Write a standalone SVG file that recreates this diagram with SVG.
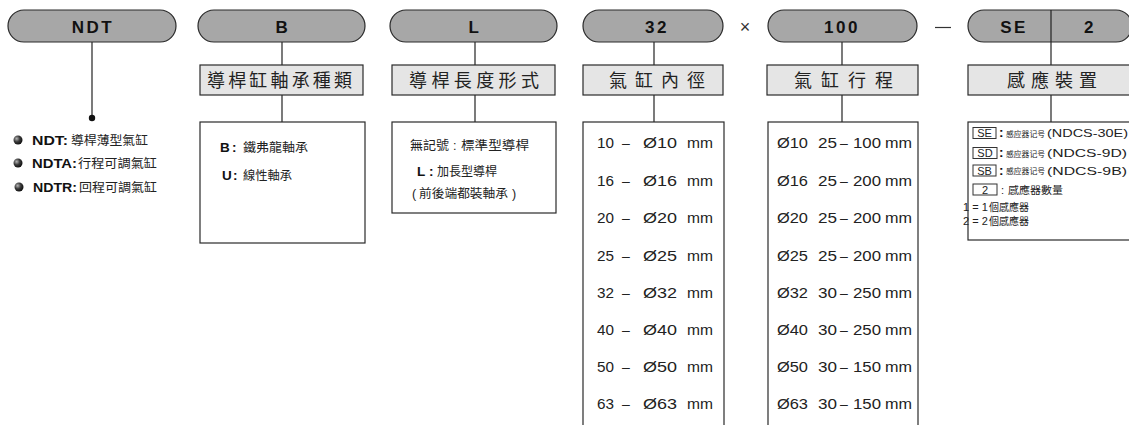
<svg xmlns="http://www.w3.org/2000/svg" width="1129" height="425" viewBox="0 0 1129 425">
<defs>
<radialGradient id="ball" cx="0.35" cy="0.35" r="0.7">
<stop offset="0" stop-color="#b5b5b5"/>
<stop offset="0.5" stop-color="#3a3a3a"/>
<stop offset="1" stop-color="#0d0d0d"/>
</radialGradient>
<style>
.pill{fill:#a7a7a7;stroke:#2a2a2a;stroke-width:1.2}
.title{fill:#e5e5e5;stroke:#2a2a2a;stroke-width:1.2}
.box{fill:#fff;stroke:#2a2a2a;stroke-width:1.2}
.conn{stroke:#222;stroke-width:1.2;fill:none}
.pt{font-family:"Liberation Sans",Arial,sans-serif;font-weight:bold;font-size:17px;fill:#111;letter-spacing:2.5px}
.tt{font-family:"Noto Sans CJK TC","Noto Sans CJK SC",sans-serif;font-size:18px;fill:#222}
.ct{font-family:"Liberation Sans","Noto Sans CJK TC",sans-serif;font-size:12.5px;fill:#222}
.cj{font-family:"Noto Sans CJK TC",sans-serif;font-size:12.5px;fill:#222}
.bd{font-family:"Liberation Sans",Arial,sans-serif;font-weight:bold;font-size:13.5px;fill:#111}
.num{font-family:"Liberation Sans",Arial,sans-serif;font-size:14px;fill:#222}
.sm{font-family:"Liberation Sans","Noto Sans CJK TC",sans-serif;font-size:11px;fill:#222}
.smc{font-family:"Noto Sans CJK TC",sans-serif;font-size:10.5px;fill:#222}
.tiny{font-family:"Noto Sans CJK SC","Noto Sans CJK TC",sans-serif;font-size:7.8px;fill:#222}
.tag{fill:#fff;stroke:#333;stroke-width:1}
.op{font-family:"Liberation Sans",Arial,sans-serif;font-size:18px;fill:#333}
</style>
</defs>
<rect width="1129" height="425" fill="#fff"/>

<g id="connectors">
<line class="conn" x1="92" y1="42" x2="92" y2="118"/>
<circle cx="92" cy="118" r="3.2" fill="#111"/>
<line class="conn" x1="282" y1="42" x2="282" y2="65"/>
<line class="conn" x1="282" y1="95" x2="282" y2="122"/>
<line class="conn" x1="475" y1="42" x2="475" y2="65"/>
<line class="conn" x1="475" y1="95" x2="475" y2="122"/>
<line class="conn" x1="654" y1="42" x2="654" y2="65"/>
<line class="conn" x1="654" y1="95" x2="654" y2="122"/>
<line class="conn" x1="842" y1="42" x2="842" y2="65"/>
<line class="conn" x1="842" y1="95" x2="842" y2="122"/>
<line class="conn" x1="1051" y1="42" x2="1051" y2="65"/>
<line class="conn" x1="1051" y1="95" x2="1051" y2="122"/>
</g>

<g id="operators">
<text class="op" x="745" y="33" text-anchor="middle">×</text>
<line x1="935" y1="27.5" x2="951" y2="27.5" stroke="#333" stroke-width="1.2"/>
</g>

<g id="node-ndt">
<rect class="pill" x="8" y="10" width="168" height="32" rx="16"/>
<text class="pt" x="93" y="33" text-anchor="middle">NDT</text>
<circle cx="18" cy="140" r="4.5" fill="url(#ball)"/>
<text class="bd" x="32" y="145" textLength="36" lengthAdjust="spacingAndGlyphs">NDT:</text>
<text class="cj" x="71" y="145" textLength="77" lengthAdjust="spacingAndGlyphs">導桿薄型氣缸</text>
<circle cx="18" cy="163" r="4.5" fill="url(#ball)"/>
<text class="bd" x="32" y="168" textLength="45" lengthAdjust="spacingAndGlyphs">NDTA:</text>
<text class="cj" x="78" y="168" textLength="79" lengthAdjust="spacingAndGlyphs">行程可調氣缸</text>
<circle cx="19" cy="187" r="4.5" fill="url(#ball)"/>
<text class="bd" x="33" y="192" textLength="44" lengthAdjust="spacingAndGlyphs">NDTR:</text>
<text class="cj" x="79" y="192" textLength="78" lengthAdjust="spacingAndGlyphs">回程可調氣缸</text>
</g>

<g id="node-b">
<rect class="pill" x="198" y="10" width="167" height="32" rx="16"/>
<text class="pt" x="283" y="33" text-anchor="middle">B</text>
<rect class="title" x="200" y="65" width="163" height="30"/>
<text class="tt" x="207" y="87" textLength="145">導桿缸軸承種類</text>
<rect class="box" x="200" y="122" width="165" height="121"/>
<text class="bd" x="220" y="152">B</text>
<text class="bd" x="232" y="152">:</text>
<text class="cj" x="243" y="152" textLength="65" lengthAdjust="spacingAndGlyphs">鐵弗龍軸承</text>
<text class="bd" x="222" y="180">U</text>
<text class="bd" x="233" y="180">:</text>
<text class="cj" x="243" y="180" textLength="49" lengthAdjust="spacingAndGlyphs">線性軸承</text>
</g>

<g id="node-l">
<rect class="pill" x="390" y="10" width="167" height="32" rx="16"/>
<text class="pt" x="475" y="33" text-anchor="middle">L</text>
<rect class="title" x="392" y="65" width="163" height="30"/>
<text class="tt" x="409" y="87" textLength="130">導桿長度形式</text>
<rect class="box" x="392" y="122" width="164" height="91"/>
<text class="cj" x="410" y="149.5" textLength="39" lengthAdjust="spacingAndGlyphs">無記號</text>
<text class="ct" x="453" y="149.5">:</text>
<text class="cj" x="461" y="149.5" textLength="68" lengthAdjust="spacingAndGlyphs">標準型導桿</text>
<text class="bd" x="417" y="176">L</text>
<text class="bd" x="429" y="176">:</text>
<text class="cj" x="437" y="176" textLength="60" lengthAdjust="spacingAndGlyphs">加長型導桿</text>
<text class="ct" x="412" y="198">(</text>
<text class="cj" x="419" y="198" textLength="89" lengthAdjust="spacingAndGlyphs">前後端都裝軸承</text>
<text class="ct" x="512" y="198">)</text>
</g>

<g id="node-32">
<rect class="pill" x="583" y="10" width="140" height="32" rx="16"/>
<text class="pt" x="657" y="33" text-anchor="middle">32</text>
<rect class="title" x="583" y="65" width="140" height="30"/>
<text class="tt" x="609" y="87" textLength="96">氣缸內徑</text>
<rect class="box" x="583" y="122" width="141" height="320"/>
<g class="num">
<text x="597" y="148" textLength="17" lengthAdjust="spacingAndGlyphs">10</text><text x="622" y="148">–</text><text x="643" y="148" textLength="34" lengthAdjust="spacingAndGlyphs">Ø10</text><text x="687" y="148" textLength="26" lengthAdjust="spacingAndGlyphs">mm</text>
<text x="597" y="186" textLength="17" lengthAdjust="spacingAndGlyphs">16</text><text x="622" y="186">–</text><text x="643" y="186" textLength="34" lengthAdjust="spacingAndGlyphs">Ø16</text><text x="687" y="186" textLength="26" lengthAdjust="spacingAndGlyphs">mm</text>
<text x="597" y="223" textLength="17" lengthAdjust="spacingAndGlyphs">20</text><text x="622" y="223">–</text><text x="643" y="223" textLength="34" lengthAdjust="spacingAndGlyphs">Ø20</text><text x="687" y="223" textLength="26" lengthAdjust="spacingAndGlyphs">mm</text>
<text x="597" y="261" textLength="17" lengthAdjust="spacingAndGlyphs">25</text><text x="622" y="261">–</text><text x="643" y="261" textLength="34" lengthAdjust="spacingAndGlyphs">Ø25</text><text x="687" y="261" textLength="26" lengthAdjust="spacingAndGlyphs">mm</text>
<text x="597" y="298" textLength="17" lengthAdjust="spacingAndGlyphs">32</text><text x="622" y="298">–</text><text x="643" y="298" textLength="34" lengthAdjust="spacingAndGlyphs">Ø32</text><text x="687" y="298" textLength="26" lengthAdjust="spacingAndGlyphs">mm</text>
<text x="597" y="335" textLength="17" lengthAdjust="spacingAndGlyphs">40</text><text x="622" y="335">–</text><text x="643" y="335" textLength="34" lengthAdjust="spacingAndGlyphs">Ø40</text><text x="687" y="335" textLength="26" lengthAdjust="spacingAndGlyphs">mm</text>
<text x="597" y="372" textLength="17" lengthAdjust="spacingAndGlyphs">50</text><text x="622" y="372">–</text><text x="643" y="372" textLength="34" lengthAdjust="spacingAndGlyphs">Ø50</text><text x="687" y="372" textLength="26" lengthAdjust="spacingAndGlyphs">mm</text>
<text x="597" y="409" textLength="17" lengthAdjust="spacingAndGlyphs">63</text><text x="622" y="409">–</text><text x="643" y="409" textLength="34" lengthAdjust="spacingAndGlyphs">Ø63</text><text x="687" y="409" textLength="26" lengthAdjust="spacingAndGlyphs">mm</text>
</g>
</g>

<g id="node-100">
<rect class="pill" x="768" y="10" width="149" height="32" rx="16"/>
<text class="pt" x="842" y="33" text-anchor="middle">100</text>
<rect class="title" x="767" y="65" width="151" height="30"/>
<text class="tt" x="794" y="87" textLength="99">氣缸行程</text>
<rect class="box" x="768" y="122" width="150" height="320"/>
<g class="num">
<text x="777" y="148" textLength="31" lengthAdjust="spacingAndGlyphs">Ø10</text><text x="818" y="148" textLength="19" lengthAdjust="spacingAndGlyphs">25</text><text x="840" y="148">–</text><text x="853" y="148" textLength="28" lengthAdjust="spacingAndGlyphs">100</text><text x="885" y="148" textLength="27" lengthAdjust="spacingAndGlyphs">mm</text>
<text x="777" y="186" textLength="31" lengthAdjust="spacingAndGlyphs">Ø16</text><text x="818" y="186" textLength="19" lengthAdjust="spacingAndGlyphs">25</text><text x="840" y="186">–</text><text x="853" y="186" textLength="28" lengthAdjust="spacingAndGlyphs">200</text><text x="885" y="186" textLength="27" lengthAdjust="spacingAndGlyphs">mm</text>
<text x="777" y="223" textLength="31" lengthAdjust="spacingAndGlyphs">Ø20</text><text x="818" y="223" textLength="19" lengthAdjust="spacingAndGlyphs">25</text><text x="840" y="223">–</text><text x="853" y="223" textLength="28" lengthAdjust="spacingAndGlyphs">200</text><text x="885" y="223" textLength="27" lengthAdjust="spacingAndGlyphs">mm</text>
<text x="777" y="261" textLength="31" lengthAdjust="spacingAndGlyphs">Ø25</text><text x="818" y="261" textLength="19" lengthAdjust="spacingAndGlyphs">25</text><text x="840" y="261">–</text><text x="853" y="261" textLength="28" lengthAdjust="spacingAndGlyphs">200</text><text x="885" y="261" textLength="27" lengthAdjust="spacingAndGlyphs">mm</text>
<text x="777" y="298" textLength="31" lengthAdjust="spacingAndGlyphs">Ø32</text><text x="818" y="298" textLength="19" lengthAdjust="spacingAndGlyphs">30</text><text x="840" y="298">–</text><text x="853" y="298" textLength="28" lengthAdjust="spacingAndGlyphs">250</text><text x="885" y="298" textLength="27" lengthAdjust="spacingAndGlyphs">mm</text>
<text x="777" y="335" textLength="31" lengthAdjust="spacingAndGlyphs">Ø40</text><text x="818" y="335" textLength="19" lengthAdjust="spacingAndGlyphs">30</text><text x="840" y="335">–</text><text x="853" y="335" textLength="28" lengthAdjust="spacingAndGlyphs">250</text><text x="885" y="335" textLength="27" lengthAdjust="spacingAndGlyphs">mm</text>
<text x="777" y="372" textLength="31" lengthAdjust="spacingAndGlyphs">Ø50</text><text x="818" y="372" textLength="19" lengthAdjust="spacingAndGlyphs">30</text><text x="840" y="372">–</text><text x="853" y="372" textLength="28" lengthAdjust="spacingAndGlyphs">150</text><text x="885" y="372" textLength="27" lengthAdjust="spacingAndGlyphs">mm</text>
<text x="777" y="409" textLength="31" lengthAdjust="spacingAndGlyphs">Ø63</text><text x="818" y="409" textLength="19" lengthAdjust="spacingAndGlyphs">30</text><text x="840" y="409">–</text><text x="853" y="409" textLength="28" lengthAdjust="spacingAndGlyphs">150</text><text x="885" y="409" textLength="27" lengthAdjust="spacingAndGlyphs">mm</text>
</g>
</g>

<g id="node-se">
<rect class="pill" x="968" y="10" width="164" height="32" rx="16"/>
<line class="conn" x1="1051" y1="10" x2="1051" y2="42"/>
<text class="pt" x="1014" y="33" text-anchor="middle">SE</text>
<text class="pt" x="1090" y="33" text-anchor="middle">2</text>
<rect class="title" x="968" y="65" width="170" height="30"/>
<text class="tt" x="1007" y="87" textLength="90">感應裝置</text>
<rect class="box" x="968" y="122" width="170" height="118"/>
<rect class="tag" x="973" y="127.5" width="23" height="11"/>
<text class="sm" x="984.5" y="137" text-anchor="middle">SE</text>
<text class="bd" x="999" y="137" font-size="11">:</text>
<text class="tiny" x="1006" y="136.5">感应器记号</text>
<text class="sm" x="1047" y="136.5" font-size="9" textLength="81" lengthAdjust="spacingAndGlyphs">(NDCS-30E)</text>
<rect class="tag" x="973" y="147.5" width="24" height="11"/>
<text class="sm" x="985" y="157" text-anchor="middle">SD</text>
<text class="bd" x="999" y="157" font-size="11">:</text>
<text class="tiny" x="1006" y="156.5">感应器记号</text>
<text class="sm" x="1047" y="157" textLength="80" lengthAdjust="spacingAndGlyphs">(NDCS-9D)</text>
<rect class="tag" x="973" y="165" width="23" height="11"/>
<text class="sm" x="984.5" y="174.5" text-anchor="middle">SB</text>
<text class="bd" x="999" y="174.5" font-size="11">:</text>
<text class="tiny" x="1006" y="174">感应器记号</text>
<text class="sm" x="1047" y="174.5" textLength="80" lengthAdjust="spacingAndGlyphs">(NDCS-9B)</text>
<rect class="tag" x="973" y="184" width="24" height="11"/>
<text class="sm" x="985" y="193.5" text-anchor="middle">2</text>
<text class="sm" x="1001" y="193.5">:</text>
<text class="smc" x="1008" y="193.5" textLength="55" lengthAdjust="spacingAndGlyphs">感應器數量</text>
<text class="sm" x="963" y="211">1 = 1</text>
<text class="smc" x="989" y="211" textLength="40" lengthAdjust="spacingAndGlyphs">個感應器</text>
<text class="sm" x="963" y="225">2 = 2</text>
<text class="smc" x="989" y="225" textLength="40" lengthAdjust="spacingAndGlyphs">個感應器</text>
</g>
</svg>
